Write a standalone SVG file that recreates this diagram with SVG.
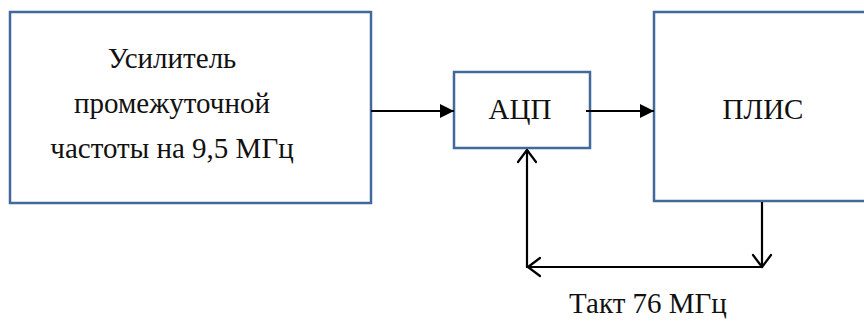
<svg xmlns="http://www.w3.org/2000/svg" width="864" height="322" viewBox="0 0 864 322">
  <style>
    .box { fill: #ffffff; stroke: #41699b; stroke-width: 2.5; }
    .lbl { font-family: "Liberation Serif", "DejaVu Serif", serif; font-size: 29px; fill: #111111; text-anchor: middle; }
    .wire { fill: none; stroke: #000000; stroke-width: 2.2; }
    .open { fill: none; stroke: #000000; stroke-width: 2.2; stroke-linecap: round; stroke-linejoin: round; }
  </style>
  <defs>
    <marker id="solid" viewBox="0 0 14 14" refX="14" refY="7" markerWidth="14" markerHeight="14" markerUnits="userSpaceOnUse" orient="auto">
      <path d="M0,0 L14,7 L0,14 Z" fill="#000000"/>
    </marker>
  </defs>

  <g id="amplifier">
    <rect class="box" x="10" y="12" width="361" height="191"/>
    <text class="lbl" x="172" y="68">Усилитель</text>
    <text class="lbl" x="172" y="113">промежуточной</text>
    <text class="lbl" x="172" y="158">частоты на 9,5 МГц</text>
  </g>

  <g id="adc">
    <rect class="box" x="454" y="72" width="136" height="76"/>
    <text class="lbl" x="520" y="119">АЦП</text>
  </g>

  <g id="fpga">
    <rect class="box" x="654" y="12" width="220" height="189"/>
    <text class="lbl" x="763" y="119">ПЛИС</text>
  </g>

  <g id="clock-label">
    <text class="lbl" x="648" y="313">Такт 76 МГц</text>
  </g>

  <g id="connectors">
    <line class="wire" x1="371" y1="111" x2="454" y2="111" marker-end="url(#solid)"/>
    <line class="wire" x1="586" y1="111" x2="654" y2="111" marker-end="url(#solid)"/>
    <!-- clock loop: FPGA down, left along the bottom, up into the ADC -->
    <polyline class="wire" points="762,202 762,267 527,267 527,150"/>
    <polyline class="open" points="753,255 762,267 771,255"/>
    <polyline class="open" points="540,258 528,267 540,276"/>
    <polyline class="open" points="518,162 527,150 536,162"/>
  </g>
</svg>
